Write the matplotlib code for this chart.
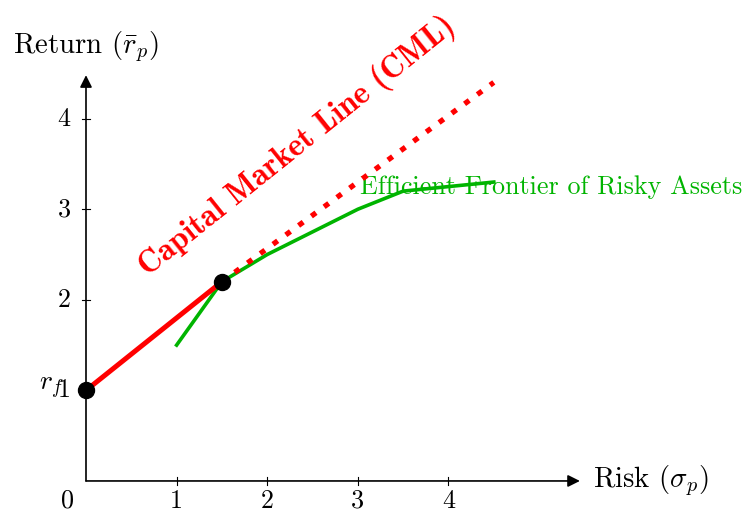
import matplotlib.pyplot as plt

plt.rcParams['font.family'] = 'cmr10'
plt.rcParams['mathtext.fontset'] = 'cm'
plt.rcParams['axes.formatter.use_mathtext'] = True

# capital market line: solid part up to the tangency portfolio, then dotted
cml_x = [0, 1.5]
cml_y = [1, 2.2]
cml_ext_x = [1.5, 4.5]
cml_ext_y = [2.2, 4.4]
# efficient frontier of risky assets
front_x = [1, 1.5, 2, 2.5, 3, 3.5, 4.5]
front_y = [1.5, 2.2, 2.5, 2.75, 3.0, 3.2, 3.3]
# marked points (risk-free asset, tangency portfolio)
pts_x = [0, 1.5]
pts_y = [1, 2.2]
ticks = [1, 2, 3, 4]

green = '#00b400'
fs = 18.8
lab_fs = 20.8

fig = plt.figure(figsize=(7.43, 5.19), dpi=100)
ax = fig.add_axes([0, 0, 1, 1])
ax.set_xlim(-0.949, 7.25)
ax.set_ylim(-0.42, 5.31)
ax.axis('off')

# axes with arrow heads
ax.annotate('', xy=(5.45, 0), xytext=(0, 0),
            arrowprops=dict(arrowstyle='-|>', color='black', lw=1.2,
                            mutation_scale=18, shrinkA=0, shrinkB=0))
ax.annotate('', xy=(0, 4.48), xytext=(0, 0),
            arrowprops=dict(arrowstyle='-|>', color='black', lw=1.2,
                            mutation_scale=18, shrinkA=0, shrinkB=0))

# ticks
for t in ticks:
    ax.plot([t, t], [-0.04, 0.04], color='black', lw=0.8)
    ax.plot([-0.04, 0.04], [t, t], color='black', lw=0.8)
    ax.text(t, -0.09, str(t), ha='center', va='top', fontsize=fs)
    ax.text(-0.17, t, str(t), ha='right', va='center', fontsize=fs)
ax.text(-0.2, -0.09, '0', ha='center', va='top', fontsize=fs)
ax.text(-0.24, 1.02, r'$r_f$', ha='right', va='center', fontsize=fs + 1)

ax.text(5.6, 0, r'Risk ($\sigma_p$)', ha='left', va='center', fontsize=lab_fs)
ax.text(0, 4.6, r'Return ($\bar{r}_p$)', ha='center', va='bottom',
        fontsize=lab_fs)

# lines
ax.plot(front_x, front_y, color=green, lw=2.6, zorder=3)
ax.plot(cml_x, cml_y, color='red', lw=3.6, solid_capstyle='butt', zorder=4)
ax.plot(cml_ext_x, cml_ext_y, color='red', lw=3.8, linestyle=(0, (1.1, 1.9)),
        dash_capstyle='butt', zorder=4)
ax.plot(pts_x, pts_y, 'o', color='black', markersize=11.5, zorder=5)

ax.text(3.02, 3.24, 'Efficient Frontier of Risky Assets', color=green,
        ha='left', va='center', fontsize=fs)
ax.text(2.33, 3.69, 'Capital Market Line (CML)', color='red', family='cmb10',
        rotation=38.7, rotation_mode='anchor', ha='center', va='center',
        fontsize=23)

fig.savefig('out.png', dpi=100)
